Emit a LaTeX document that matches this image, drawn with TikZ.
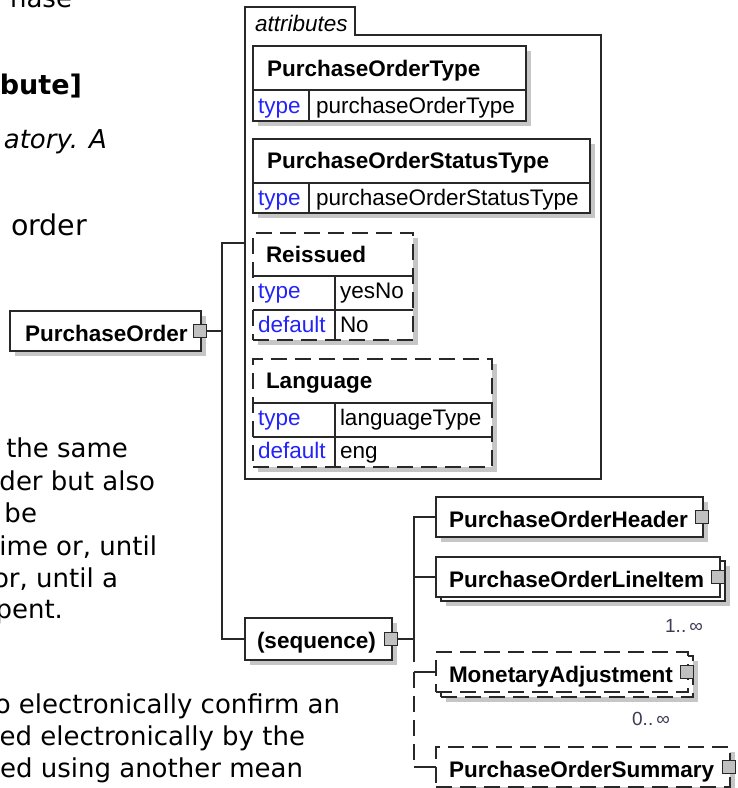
\documentclass[tikz,border=0pt]{standalone}
\usepackage{fontspec}
\setmainfont{Liberation Sans}
\newfontfamily\docfont{DejaVu Sans}
\usetikzlibrary{shadows}
\definecolor{kw}{RGB}{35,35,250}
\definecolor{shd}{RGB}{198,198,198}
\definecolor{edge}{RGB}{40,40,40}
\definecolor{btn}{RGB}{192,192,192}
\definecolor{multc}{RGB}{60,60,85}
\newcommand{\dgfont}{\fontsize{22.5}{27}\selectfont}
\newcommand{\txfont}{\docfont\fontsize{26}{32}\selectfont}
\begin{document}
\begin{tikzpicture}[x=1pt,y=-1pt,
  every node/.style={inner sep=0pt, outer sep=0pt},
  conn/.style={draw=edge, line width=1.3pt},
  dashpat/.style={dash pattern=on 16pt off 8pt},
  boxshadow/.style={general shadow={fill=shd, shadow xshift=5pt, shadow yshift=-5pt}},
  elbox/.style={draw=edge, fill=white, line width=1.3pt, anchor=north west},
  optbox/.style={elbox, dashpat},
  cell/.style={draw=edge, line width=1.3pt},
  btnsq/.style={draw=edge, fill=btn, line width=1pt, minimum size=13pt},
  ename/.style={font=\dgfont\bfseries, anchor=base west},
  akey/.style={font=\dgfont, text=kw, anchor=base west},
  aval/.style={font=\dgfont, anchor=base west},
  multlabel/.style={font=\fontsize{19}{22}\selectfont, text=multc, anchor=base east},
  doc/.style={font=\txfont, anchor=base east},
  attrframe/.style={draw=edge, line width=1.1pt}]
\useasboundingbox (0,0) rectangle (738,788);
\fill[white] (0,0) rectangle (738,788);

% background document text (partly hidden)
\begin{scope}
\clip (0,0) rectangle (738,788);
\node[doc] (d1) at (72,7) {hase};
\node[doc, font=\docfont\fontsize{27}{32}\selectfont\bfseries] (d2) at (82,94) {bute]};
\node[doc, font=\txfont\itshape] (d3) at (107,148) {atory. A};
\node[doc, font=\docfont\fontsize{28.5}{32}\selectfont] (d4) at (87,235) {order};
\node[doc] (d5) at (128,457) {the same};
\node[doc] (d6) at (155,490) {der but also};
\node[doc] (d7) at (37,522) {be};
\node[doc] (d8) at (157,555) {ime or, until};
\node[doc] (d9) at (118,587) {or, until a};
\node[doc] (d10) at (63,618) {pent.};
\node[doc] (d11) at (340,713) {o electronically confirm an};
\node[doc] (d12) at (305,745) {ed electronically by the};
\node[doc] (d13) at (303,777) {ed using another mean};
\end{scope}

% attributes container
\node[anchor=north west, minimum width=356pt, minimum height=444pt] (attrs) at (245,35) {};
\draw[attrframe] (attrs.south west) -- (245,7) -- (355,7) -- (355,35) -- (attrs.north east) -- (attrs.south east) -- cycle;
\node[font=\dgfont\itshape, anchor=base west] (attrs-t) at (255,31) {attributes};
\coordinate (attin) at (245,243);

% attribute: PurchaseOrderType
\node[elbox, boxshadow, minimum width=273pt, minimum height=75pt] (a1) at (253,46) {};
\draw[cell] (253,90) -- (526,90) (309,90) -- (309,121);
\node[ename] (a1-h) at (267,76) {PurchaseOrderType};
\node[akey] (a1-k) at (258,113) {type};
\node[aval] (a1-v) at (316,113) {purchaseOrderType};

% attribute: PurchaseOrderStatusType
\node[elbox, boxshadow, minimum width=337pt, minimum height=74pt] (a2) at (253,139) {};
\draw[cell] (253,183) -- (590,183) (309,183) -- (309,213);
\node[ename] (a2-h) at (267,168) {PurchaseOrderStatusType};
\node[akey] (a2-k) at (258,205) {type};
\node[aval] (a2-v) at (316,205) {purchaseOrderStatusType};

% attribute: Reissued (optional)
\node[optbox, boxshadow, minimum width=160pt, minimum height=107pt] (a3) at (253,233) {};
\draw[cell] (253,276) -- (413,276) (253,310) -- (413,310) (335,276) -- (335,340);
\node[ename] (a3-h) at (266,262) {Reissued};
\node[akey] (a3-k1) at (258,298) {type};
\node[aval] (a3-v1) at (340,298) {yesNo};
\node[akey] (a3-k2) at (258,332) {default};
\node[aval] (a3-v2) at (340,332) {No};

% attribute: Language (optional)
\node[optbox, boxshadow, minimum width=239pt, minimum height=108pt] (a4) at (253,359) {};
\draw[cell] (253,403) -- (492,403) (253,437) -- (492,437) (335,403) -- (335,467);
\node[ename] (a4-h) at (266,388) {Language};
\node[akey] (a4-k1) at (258,425) {type};
\node[aval] (a4-v1) at (340,425) {languageType};
\node[akey] (a4-k2) at (258,458) {default};
\node[aval] (a4-v2) at (340,458) {eng};

% root element
\node[elbox, boxshadow, minimum width=191pt, minimum height=40pt] (po) at (10,311) {};
\node[ename] (po-t) at (25,341) {PurchaseOrder};

% sequence
\node[elbox, boxshadow, minimum width=147pt, minimum height=42pt] (seq) at (245,618) {};
\node[ename] (seq-t) at (257,648) {(sequence)};

% children
\node[elbox, boxshadow, minimum width=267pt, minimum height=40pt] (hdr) at (436,497) {};
\node[ename] (hdr-t) at (449,527) {PurchaseOrderHeader};

\node[elbox, boxshadow, minimum width=284pt, minimum height=40pt] (li-back) at (441,561) {};
\node[elbox, minimum width=284pt, minimum height=40pt] (li) at (436,557) {};
\node[ename] (li-t) at (449,587) {PurchaseOrderLineItem};
\node[multlabel] (li-m) at (703,632) {1..\,∞};

\node[optbox, boxshadow, minimum width=252pt, minimum height=41pt] (ma-back) at (441,656) {};
\node[optbox, minimum width=252pt, minimum height=40pt] (ma) at (436,652) {};
\node[ename] (ma-t) at (449,682) {MonetaryAdjustment};
\node[multlabel] (ma-m) at (670,725) {0..\,∞};

\node[optbox, boxshadow, minimum width=294pt, minimum height=40pt] (sum) at (436,747) {};
\node[ename] (sum-t) at (449,777) {PurchaseOrderSummary};

% expand buttons
\node[btnsq] (po-sq) at ([xshift=-1.5pt]po.east) {};
\node[btnsq] (seq-sq) at ([xshift=-1.5pt]seq.east) {};
\node[btnsq] (hdr-sq) at ([xshift=-1pt]hdr.east) {};
\node[btnsq] (li-sq) at ([xshift=-2pt]li.east) {};
\node[btnsq] (ma-sq) at ([xshift=-1pt]ma.east) {};
\node[btnsq] (sum-sq) at ([xshift=-1.5pt]sum.east) {};

% connectors: root level
\coordinate (trunkA) at (222,243);
\draw[conn] (po-sq.east) -- (po-sq.east -| trunkA);
\draw[conn] (attin) -- (trunkA) |- (seq.west);

% connectors: sequence level
\coordinate (trunkB) at (414,639);
\coordinate (trunkBend) at (414,662);
\draw[conn] (seq-sq.east) -- (trunkB);
\draw[conn] (hdr.west) -| (trunkBend);
\draw[conn] (li.west) -- (li.west -| trunkB);
\draw[conn] (ma.west) -- (ma.west -| trunkB);
\draw[conn, dashpat] (ma.west -| trunkB) -- (sum.west -| trunkB);
\draw[conn] (sum.west -| trunkB) -- (sum.west);
\end{tikzpicture}
\end{document}
